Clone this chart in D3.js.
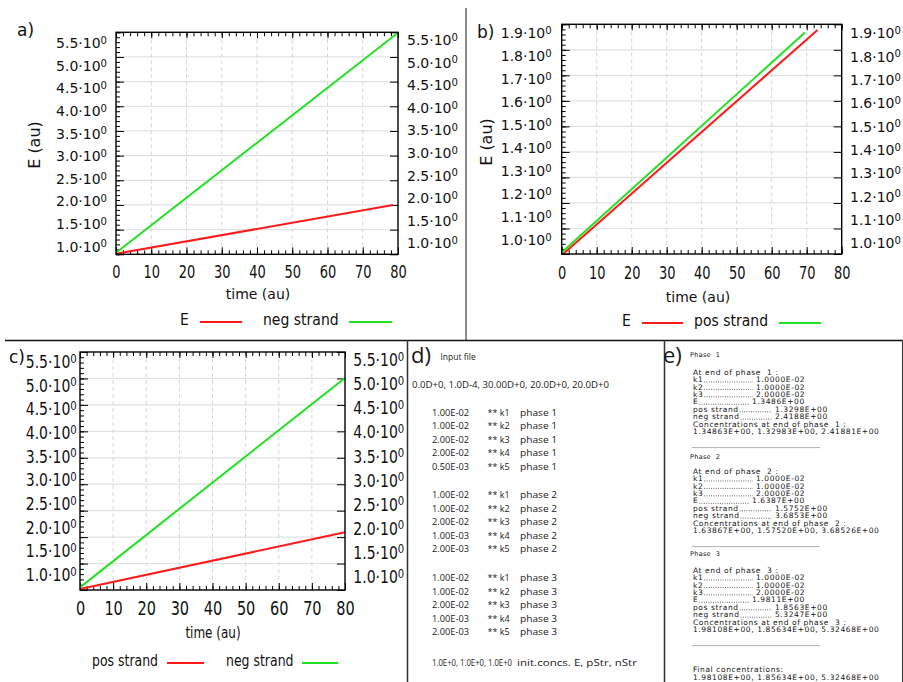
<!DOCTYPE html>
<html><head><meta charset="utf-8">
<script src="https://cdn.jsdelivr.net/npm/d3@7"></script>
<style>body{margin:0;background:#fff} svg{display:block}</style>
</head><body>
<script>
// ---------------- DATA ----------------
const xTicks = [0, 10, 20, 30, 40, 50, 60, 70, 80];
const yTicksAC = [1.0, 1.5, 2.0, 2.5, 3.0, 3.5, 4.0, 4.5, 5.0, 5.5];
const yTicksB = [1.0, 1.1, 1.2, 1.3, 1.4, 1.5, 1.6, 1.7, 1.8, 1.9];

// panel a
const aTimeE = [0, 78.6];
const aValE = [1.01, 2.0];
const aTimeNeg = [0, 80];
const aValNeg = [1.03, 5.49];
// panel b
const bTimeE = [0.4, 73.1];
const bValE = [1.0, 1.878];
const bTimePos = [0, 69.5];
const bValPos = [1.006, 1.868];
// panel c
const cTimePos = [0, 80];
const cValPos = [1.02, 2.09];
const cTimeNeg = [0, 80];
const cValNeg = [1.05, 5.01];

// panel d (input file)
const inputHeader = "0.0D+0, 1.0D-4, 30.00D+0, 20.0D+0, 20.0D+0";
const inputVals = ["1.00E-02","1.00E-02","2.00E-02","2.00E-02","0.50E-03",
                   "1.00E-02","1.00E-02","2.00E-02","1.00E-03","2.00E-03",
                   "1.00E-02","1.00E-02","2.00E-02","1.00E-03","2.00E-03"];
const inputK = ["k1","k2","k3","k4","k5"];
const inputPhases = ["phase 1","phase 2","phase 3"];
const inputInit = ["1.0E+0, 1.0E+0, 1.0E+0", "init.concs. E, pStr, nStr"];

// panel e (output)
const kVals = ["1.0000E-02","1.0000E-02","2.0000E-02"];
const phaseE = ["1.3486E+00","1.6387E+00","1.9811E+00"];
const phasePos = ["1.3298E+00","1.5752E+00","1.8563E+00"];
const phaseNeg = ["2.4188E+00","3.6853E+00","5.3247E+00"];
const phaseConc = ["1.34863E+00, 1.32983E+00, 2.41881E+00",
                   "1.63867E+00, 1.57520E+00, 3.68526E+00",
                   "1.98108E+00, 1.85634E+00, 5.32468E+00"];
const finalConc = "1.98108E+00, 1.85634E+00, 5.32468E+00";

// ---------------- DRAW ----------------
const W = 903, H = 682;
const RED = "#ff1a1a", GREEN = "#22e022";
const FONT = "DejaVu Sans";
const DFONT = "'Open Sans', sans-serif";
const svg = d3.select("body").append("svg").attr("width", W).attr("height", H)
  .style("background", "#fff");

function stretchedText(g, txt, cx, cy, size, sy, anchor, rot) {
  let tr = `translate(${cx},${cy})`;
  if (rot) tr += ` rotate(${rot})`;
  tr += ` scale(1,${sy})`;
  return g.append("text").attr("transform", tr).attr("text-anchor", anchor || "middle")
    .attr("dy", "0.35em").attr("font-family", FONT).attr("font-size", size)
    .attr("fill", "#111").text(txt);
}

function supLabels(sel) {
  sel.each(function (d) {
    const t = d3.select(this);
    t.text(null);
    t.append("tspan").text(d.toFixed(1) + "\u00B7" + "10");
    t.append("tspan").attr("font-size", "0.72em").attr("dy", "-0.42em").text("0");
  });
}

function drawPanel(c) {
  const g = svg.append("g");
  const x = d3.scaleLinear().domain([0, 80]).range([c.x0, c.x1]);
  const y = d3.scaleLinear().domain([c.yTicks[0], c.yTicks[c.yTicks.length - 1]]).range([c.y1, c.y0]);
  const xMinor = d3.range(0, 80.001, 2);
  const step = (c.yTicks[1] - c.yTicks[0]) / 5;
  const yMinor = d3.range(c.yTicks[0], c.yTicks[c.yTicks.length - 1] + step / 2, step);

  // grid
  g.append("g").selectAll("line").data(c.yTicks.slice(1, -1)).join("line")
    .attr("x1", c.x0).attr("x2", c.x1).attr("y1", d => y(d)).attr("y2", d => y(d))
    .attr("stroke", "#e2e2e2").attr("stroke-width", 1.2);
  g.append("g").selectAll("line").data(xTicks.slice(1, -1)).join("line")
    .attr("x1", d => x(d)).attr("x2", d => x(d)).attr("y1", c.y0).attr("y2", c.y1)
    .attr("stroke", "#d6d6d6").attr("stroke-width", 1).attr("stroke-dasharray", "4,3");

  function ax(gen, tr) {
    const a = g.append("g").attr("transform", tr).call(gen);
    a.select(".domain").remove();
    a.selectAll("text").remove();
    a.selectAll("line").attr("stroke", "#000").attr("stroke-width", 1);
    return a;
  }
  ax(d3.axisBottom(x).tickValues(xTicks).tickSize(-7).tickFormat(""), `translate(0,${c.y1})`);
  ax(d3.axisBottom(x).tickValues(xMinor).tickSize(-4).tickFormat(""), `translate(0,${c.y1})`);
  ax(d3.axisTop(x).tickValues(xTicks).tickSize(-6).tickFormat(""), `translate(0,${c.y0})`);
  ax(d3.axisTop(x).tickValues(xMinor).tickSize(-4).tickFormat(""), `translate(0,${c.y0})`);
  ax(d3.axisLeft(y).tickValues(c.yTicks).tickSize(-8).tickFormat(""), `translate(${c.x0},0)`);
  ax(d3.axisLeft(y).tickValues(yMinor).tickSize(-4).tickFormat(""), `translate(${c.x0},0)`);
  ax(d3.axisRight(y).tickValues(c.yTicks).tickSize(-8).tickFormat(""), `translate(${c.x1},0)`);

  // series
  const line = d3.line().x(d => x(d[0])).y(d => y(d[1]));
  c.series.forEach(s => {
    g.append("path").datum(d3.zip(s.t, s.v)).attr("d", line)
      .attr("fill", "none").attr("stroke", s.color).attr("stroke-width", 2);
  });

  // frame
  g.append("rect").attr("x", c.x0).attr("y", c.y0).attr("width", c.x1 - c.x0)
    .attr("height", c.y1 - c.y0).attr("fill", "none").attr("stroke", "#000").attr("stroke-width", 1.4);

  // y tick labels (left/right)
  [[c.lblLeft, c.lblLeftX, d3.axisLeft], [c.lblRight, c.lblRightX, d3.axisRight]].forEach(([rng, lx, gen]) => {
    const ys = d3.scaleLinear().domain([c.yTicks[0], c.yTicks[c.yTicks.length - 1]]).range(rng);
    const a = g.append("g").attr("transform", `translate(${lx},0)`)
      .call(gen(ys).tickValues(c.yTicks).tickSize(0).tickPadding(0));
    a.attr("font-family", FONT).attr("font-size", 14);
    a.select(".domain").remove();
    a.selectAll("text").attr("fill", "#111").attr("transform", `scale(1,${c.ySy})`).call(supLabels);
  });

  // x tick labels
  const xa = g.append("g").attr("transform", `translate(0,${c.xLabY})`)
    .call(d3.axisBottom(x).tickValues(xTicks).tickSize(0).tickPadding(0).tickFormat(d3.format("d")));
  xa.attr("font-family", FONT).attr("font-size", c.xLabFont);
  xa.select(".domain").remove();
  xa.selectAll("text").attr("y", 0).attr("dy", "0.35em").attr("fill", "#111")
    .attr("transform", `scale(1,${c.xLabSy})`);

  // titles
  stretchedText(g, "time (au)", c.xt[0], c.xt[1], c.xtSize, c.xtSy);
  if (c.yt) stretchedText(g, "E (au)", c.yt[0], c.yt[1], 16, 1, "middle", -90);
  stretchedText(g, c.letter, c.lt[0], c.lt[1], 17, 1, "start");

  // legend
  c.legend.forEach(L => {
    stretchedText(g, L.text, L.tx, c.legY, c.legSize, c.legSy, "start");
    g.append("line").attr("x1", L.lx[0]).attr("x2", L.lx[1])
      .attr("y1", c.legY + 2).attr("y2", c.legY + 2)
      .attr("stroke", L.color).attr("stroke-width", 2.2);
  });
}

drawPanel({
  x0: 116, x1: 398, y0: 32.3, y1: 254.3, yTicks: yTicksAC,
  lblLeft: [246.7, 43.3], lblLeftX: 107, lblRight: [243.3, 40], lblRightX: 407, ySy: 1,
  xLabY: 272, xLabFont: 13, xLabSy: 1.35,
  xt: [258, 294], xtSize: 14, xtSy: 1, yt: [34, 145], letter: "a)", lt: [17, 30],
  legY: 320, legSize: 14, legSy: 1.1,
  legend: [{text: "E", tx: 180, lx: [200, 242], color: RED},
           {text: "neg strand", tx: 263, lx: [349, 392], color: GREEN}],
  series: [{t: aTimeE, v: aValE, color: RED}, {t: aTimeNeg, v: aValNeg, color: GREEN}]
});
drawPanel({
  x0: 561.7, x1: 841.7, y0: 24.3, y1: 254, yTicks: yTicksB,
  lblLeft: [240, 33.3], lblLeftX: 551.7, lblRight: [243.3, 33.3], lblRightX: 850, ySy: 1,
  xLabY: 273, xLabFont: 13, xLabSy: 1.35,
  xt: [698, 297], xtSize: 14, xtSy: 1.05, yt: [486, 142], letter: "b)", lt: [477, 32],
  legY: 321, legSize: 14, legSy: 1.1,
  legend: [{text: "E", tx: 622, lx: [642, 683], color: RED},
           {text: "pos strand", tx: 694, lx: [779, 821], color: GREEN}],
  series: [{t: bTimeE, v: bValE, color: RED}, {t: bTimePos, v: bValPos, color: GREEN}]
});
drawPanel({
  x0: 80, x1: 345, y0: 352, y1: 590, yTicks: yTicksAC,
  lblLeft: [575, 361.7], lblLeftX: 76.7, lblRight: [576.7, 360], lblRightX: 353.3, ySy: 1.27,
  xLabY: 608, xLabFont: 14.5, xLabSy: 1.4,
  xt: [213, 633], xtSize: 12, xtSy: 1.25, yt: null, letter: "c)", lt: [9, 357],
  legY: 661, legSize: 12.5, legSy: 1.25,
  legend: [{text: "pos strand", tx: 92, lx: [167, 204], color: RED},
           {text: "neg strand", tx: 226, lx: [302, 338], color: GREEN}],
  series: [{t: cTimePos, v: cValPos, color: RED}, {t: cTimeNeg, v: cValNeg, color: GREEN}]
});

// separators
svg.append("line").attr("x1", 466).attr("x2", 466).attr("y1", 8).attr("y2", 340)
  .attr("stroke", "#8a8a8a").attr("stroke-width", 2);
svg.append("line").attr("x1", 5).attr("x2", 903).attr("y1", 340.5).attr("y2", 340.5)
  .attr("stroke", "#111").attr("stroke-width", 1.5);
svg.append("line").attr("x1", 407.5).attr("x2", 407.5).attr("y1", 340).attr("y2", 682)
  .attr("stroke", "#333").attr("stroke-width", 1.5);
svg.append("line").attr("x1", 664.5).attr("x2", 664.5).attr("y1", 340).attr("y2", 682)
  .attr("stroke", "#333").attr("stroke-width", 1.5);
svg.append("line").attr("x1", 902.5).attr("x2", 902.5).attr("y1", 340).attr("y2", 682)
  .attr("stroke", "#333").attr("stroke-width", 1);

// ---------------- panel d ----------------
const dG = svg.append("g").attr("font-family", DFONT).attr("fill", "#1a1a1a");
function dText(t, x, y, size, fitW) {
  const el = dG.append("text").attr("x", x).attr("y", y).attr("dy", "0.35em")
    .attr("font-size", size || 9).text(t);
  if (fitW) el.attr("textLength", fitW).attr("lengthAdjust", "spacingAndGlyphs");
  return el;
}
dText("d)", 411, 355, 22);
dText("Input file", 440.5, 357, 8.5);
dText(inputHeader, 412, 385, 9, 197);
const groupStart = [412.7, 495, 578.3];
inputVals.forEach((v, i) => {
  const gi = Math.floor(i / 5), ki = i % 5;
  const yy = groupStart[gi] + ki * 13.45;
  dText(v, 432, yy, 9, 37);
  dText("** " + inputK[ki], 487.5, yy, 9);
  dText(inputPhases[gi], 520, yy, 9, 37);
});
dText(inputInit[0], 432, 662.7, 8.4, 80);
dText(inputInit[1], 517, 662.7, 8.8, 120);

// ---------------- panel e ----------------
const eG = svg.append("g").attr("font-family", FONT).attr("fill", "#151515");
function eText(t, x, y, size, ls) {
  return eG.append("text").attr("x", x).attr("y", y).attr("dy", "0.35em")
    .attr("font-size", size || 7.5).attr("letter-spacing", ls == null ? 0.6 : ls)
    .style("white-space", "pre").text(t);
}
function leader(label, vx, val, y) {
  const t = eText(label, 693, y);
  const len = t.node().getComputedTextLength();
  eG.append("line").attr("x1", 693 + len + 1).attr("x2", vx - 3)
    .attr("y1", y + 2.5).attr("y2", y + 2.5)
    .attr("stroke", "#333").attr("stroke-width", 0.9).attr("stroke-dasharray", "0.8 1.5");
  eText(val, vx, y);
}
svg.append("text").attr("x", 663).attr("y", 355).attr("dy", "0.35em")
  .attr("font-family", DFONT).attr("font-size", 22).attr("fill", "#1a1a1a").text("e)");
const hdrY = [355, 457, 554];
const atY = [372, 471, 570];
const LS = 7.45;
for (let i = 0; i < 3; i++) {
  eText("Phase  " + (i + 1), 690, hdrY[i], 6.5, 0.3);
  const y0 = atY[i];
  eText("At end of phase  " + (i + 1) + " :", 693, y0);
  kVals.forEach((kv, j) => leader("k" + (j + 1), 756, kv, y0 + LS * (j + 1)));
  leader("E", 752, phaseE[i], y0 + LS * 4);
  leader("pos strand", 775, phasePos[i], y0 + LS * 5);
  leader("neg strand", 775, phaseNeg[i], y0 + LS * 6);
  eText("Concentrations at end of phase  " + (i + 1) + " :", 693, y0 + LS * 7);
  eText(phaseConc[i], 693, y0 + LS * 8);
  const dy = y0 + LS * 8 + 16;
  eG.append("line").attr("x1", 692).attr("x2", 820).attr("y1", dy).attr("y2", dy)
    .attr("stroke", "#9a9a9a").attr("stroke-width", 0.8);
}
eText("Final concentrations:", 693, 669);
eText(finalConc, 693, 677);
</script>
</body></html>
